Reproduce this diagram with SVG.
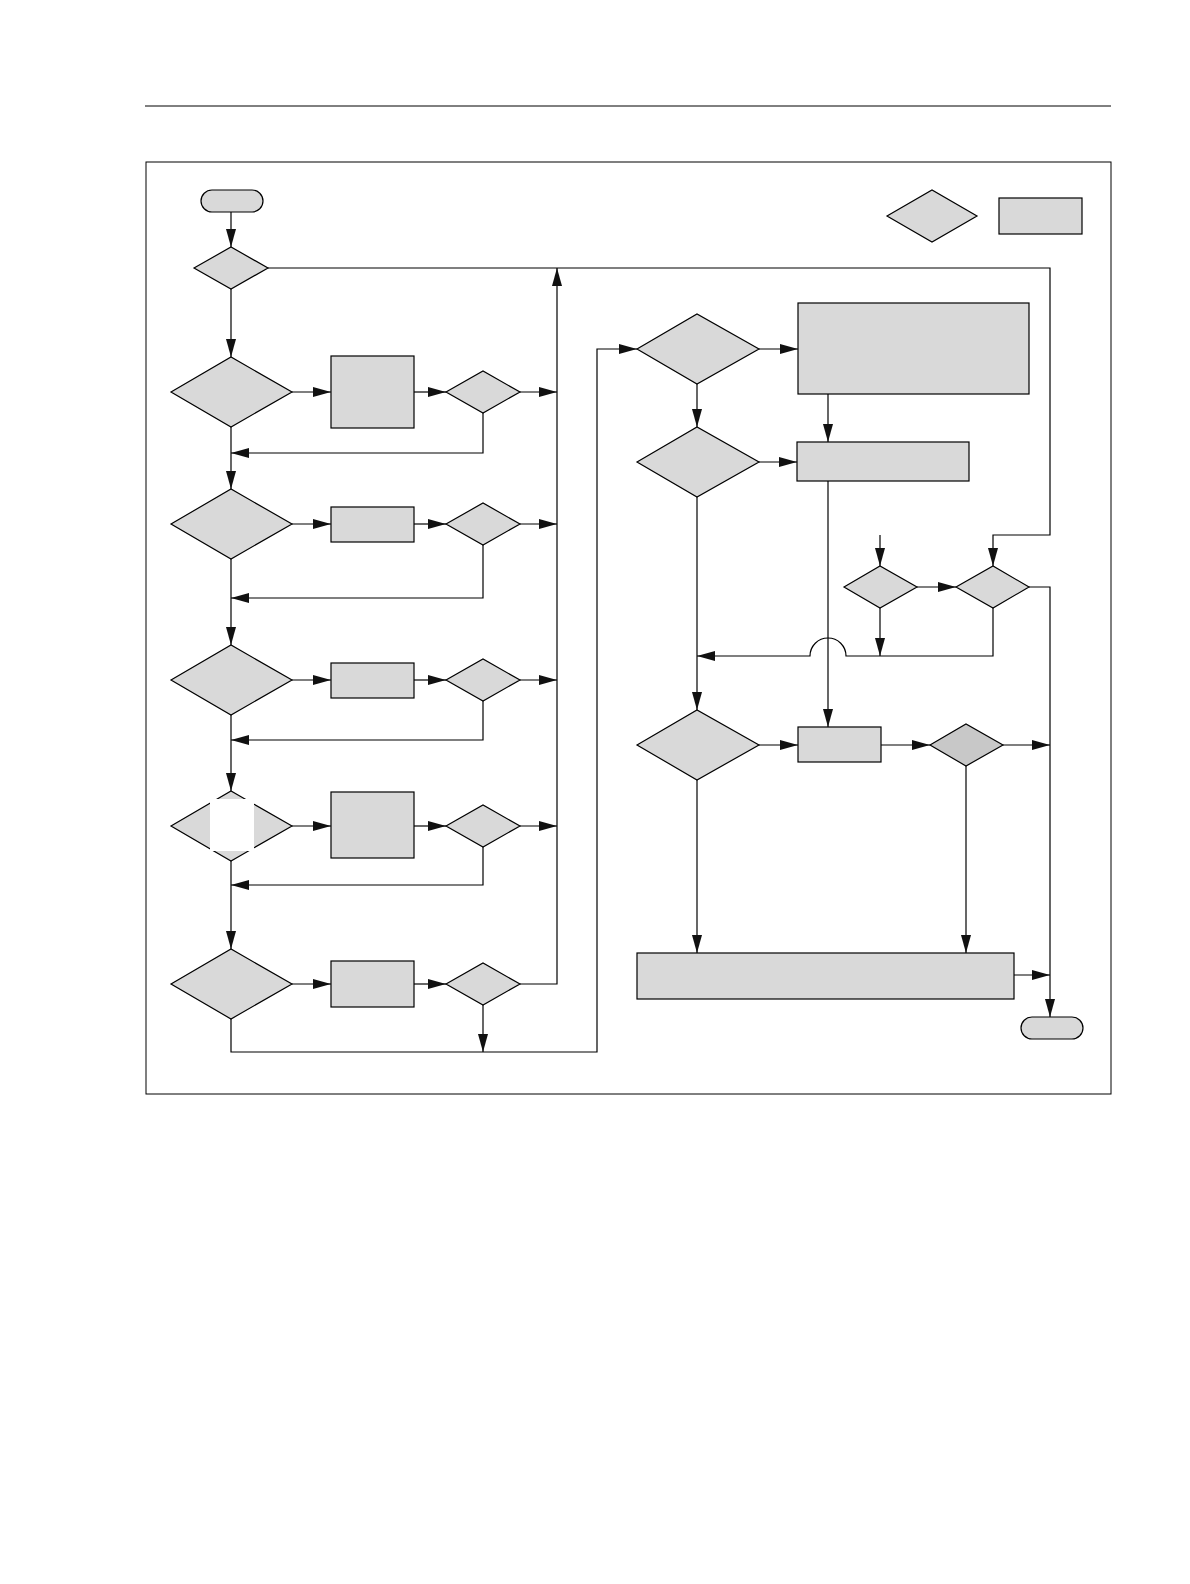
<svg xmlns="http://www.w3.org/2000/svg" width="1190" height="1584" viewBox="0 0 1190 1584">
<style>
.n{fill:#d9d9d9;stroke:#000;stroke-width:1.2}
.c line,.c polyline,.c path{fill:none;stroke:#000;stroke-width:1.2}
</style>
<defs><marker id="a" viewBox="0 0 18 10" refX="18" refY="5" markerWidth="18" markerHeight="10" markerUnits="userSpaceOnUse" orient="auto"><path d="M0,0L18,5L0,10z" fill="#111"/></marker></defs>
<rect width="1190" height="1584" fill="#fff"/>
<line x1="145" y1="106" x2="1111" y2="106" stroke="#000" stroke-width="1"/>
<rect x="146" y="162" width="965" height="932" fill="none" stroke="#000" stroke-width="1"/>
<g id="start"><rect class="n" x="201" y="190" width="62" height="22" rx="11"/></g>
<g id="legend"><polygon class="n" points="887,216 932,190 977,216 932,242"/><rect class="n" x="999" y="198" width="83" height="36"/></g>
<g id="d0"><polygon class="n" points="194,268 231,247 268,268 231,289"/></g>
<g id="d1"><polygon class="n" points="171,392 231,357 292,392 231,427"/></g>
<g id="d2"><polygon class="n" points="171,524 231,489 292,524 231,559"/></g>
<g id="d3"><polygon class="n" points="171,680 231,645 292,680 231,715"/></g>
<g id="d4"><polygon class="n" points="171,826 231,791 292,826 231,861"/><rect x="210" y="799" width="44" height="52" fill="#fff"/></g>
<g id="d5"><polygon class="n" points="171,984 231,949 292,984 231,1019"/></g>
<g id="b1"><rect class="n" x="331" y="356" width="83" height="72"/></g>
<g id="b2"><rect class="n" x="331" y="507" width="83" height="35"/></g>
<g id="b3"><rect class="n" x="331" y="663" width="83" height="35"/></g>
<g id="b4"><rect class="n" x="331" y="792" width="83" height="66"/></g>
<g id="b5"><rect class="n" x="331" y="961" width="83" height="46"/></g>
<g id="s1"><polygon class="n" points="446,392 483,371 520,392 483,413"/></g>
<g id="s2"><polygon class="n" points="446,524 483,503 520,524 483,545"/></g>
<g id="s3"><polygon class="n" points="446,680 483,659 520,680 483,701"/></g>
<g id="s4"><polygon class="n" points="446,826 483,805 520,826 483,847"/></g>
<g id="s5"><polygon class="n" points="446,984 483,963 520,984 483,1005"/></g>
<g id="r1"><polygon class="n" points="637,349 697,314 759,349 697,384"/></g>
<g id="r2"><polygon class="n" points="637,462 697,427 759,462 697,497"/></g>
<g id="r3"><polygon class="n" points="637,745 697,710 759,745 697,780"/></g>
<g id="bigbox"><rect class="n" x="798" y="303" width="231" height="91"/></g>
<g id="box2"><rect class="n" x="797" y="442" width="172" height="39"/></g>
<g id="box3"><rect class="n" x="798" y="727" width="83" height="35"/></g>
<g id="r3s"><polygon points="930,745 966,724 1003,745 966,766" fill="#c8c8c8" stroke="#000" stroke-width="1.2"/></g>
<g id="da"><polygon class="n" points="844,587 880,566 917,587 880,608"/></g>
<g id="db"><polygon class="n" points="956,587 993,566 1029,587 993,608"/></g>
<g id="wide"><rect class="n" x="637" y="953" width="377" height="46"/></g>
<g id="end"><rect class="n" x="1021" y="1017" width="62" height="22" rx="11"/></g>
<g class="c" id="connectors">
<line x1="231" y1="212" x2="231" y2="247" marker-end="url(#a)"/>
<line x1="231" y1="289" x2="231" y2="357" marker-end="url(#a)"/>
<line x1="231" y1="427" x2="231" y2="489" marker-end="url(#a)"/>
<line x1="231" y1="559" x2="231" y2="645" marker-end="url(#a)"/>
<line x1="231" y1="715" x2="231" y2="791" marker-end="url(#a)"/>
<line x1="231" y1="861" x2="231" y2="949" marker-end="url(#a)"/>
<line x1="292" y1="392" x2="331" y2="392" marker-end="url(#a)"/>
<line x1="292" y1="524" x2="331" y2="524" marker-end="url(#a)"/>
<line x1="292" y1="680" x2="331" y2="680" marker-end="url(#a)"/>
<line x1="292" y1="826" x2="331" y2="826" marker-end="url(#a)"/>
<line x1="292" y1="984" x2="331" y2="984" marker-end="url(#a)"/>
<line x1="414" y1="392" x2="446" y2="392" marker-end="url(#a)"/>
<line x1="414" y1="524" x2="446" y2="524" marker-end="url(#a)"/>
<line x1="414" y1="680" x2="446" y2="680" marker-end="url(#a)"/>
<line x1="414" y1="826" x2="446" y2="826" marker-end="url(#a)"/>
<line x1="414" y1="984" x2="446" y2="984" marker-end="url(#a)"/>
<line x1="520" y1="392" x2="557" y2="392" marker-end="url(#a)"/>
<line x1="520" y1="524" x2="557" y2="524" marker-end="url(#a)"/>
<line x1="520" y1="680" x2="557" y2="680" marker-end="url(#a)"/>
<line x1="520" y1="826" x2="557" y2="826" marker-end="url(#a)"/>
<polyline points="520,984 557,984 557,268" marker-end="url(#a)"/>
<polyline points="483,413 483,453 231,453" marker-end="url(#a)"/>
<polyline points="483,545 483,598 231,598" marker-end="url(#a)"/>
<polyline points="483,701 483,740 231,740" marker-end="url(#a)"/>
<polyline points="483,847 483,885 231,885" marker-end="url(#a)"/>
<line x1="483" y1="1005" x2="483" y2="1052" marker-end="url(#a)"/>
<polyline points="231,1019 231,1052 597,1052 597,349 637,349" marker-end="url(#a)"/>
<polyline points="268,268 1050,268 1050,535 993,535 993,566" marker-end="url(#a)"/>
<line x1="759" y1="349" x2="798" y2="349" marker-end="url(#a)"/>
<line x1="697" y1="384" x2="697" y2="427" marker-end="url(#a)"/>
<line x1="828" y1="394" x2="828" y2="442" marker-end="url(#a)"/>
<line x1="759" y1="462" x2="797" y2="462" marker-end="url(#a)"/>
<line x1="697" y1="497" x2="697" y2="710" marker-end="url(#a)"/>
<line x1="828" y1="481" x2="828" y2="727" marker-end="url(#a)"/>
<line x1="880" y1="535" x2="880" y2="566" marker-end="url(#a)"/>
<line x1="917" y1="587" x2="956" y2="587" marker-end="url(#a)"/>
<line x1="880" y1="608" x2="880" y2="656" marker-end="url(#a)"/>
<path d="M993,608 V656 H846 A18,18 0 0 0 810,656 H697" marker-end="url(#a)"/>
<polyline points="1029,587 1050,587 1050,1017" marker-end="url(#a)"/>
<line x1="759" y1="745" x2="798" y2="745" marker-end="url(#a)"/>
<line x1="881" y1="745" x2="930" y2="745" marker-end="url(#a)"/>
<line x1="1003" y1="745" x2="1050" y2="745" marker-end="url(#a)"/>
<line x1="966" y1="766" x2="966" y2="953" marker-end="url(#a)"/>
<line x1="697" y1="780" x2="697" y2="953" marker-end="url(#a)"/>
<line x1="1014" y1="975" x2="1050" y2="975" marker-end="url(#a)"/>
</g>
</svg>
